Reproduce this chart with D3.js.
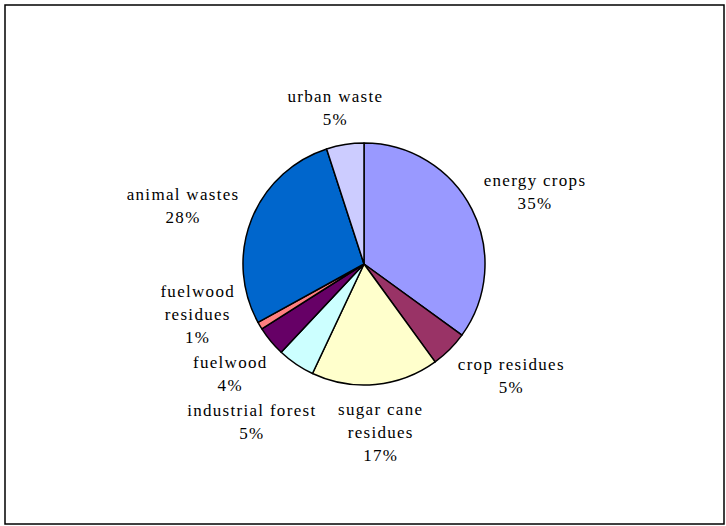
<!DOCTYPE html>
<html>
<head>
<meta charset="utf-8">
<script src="https://cdn.jsdelivr.net/npm/d3@7"></script>
<style>
  body { margin: 0; background: #fff; }
  svg { display: block; }
  .lbl text { font-family: "Liberation Serif", "Times New Roman", serif; font-size: 17px; letter-spacing: 1.3px; fill: #000; }
</style>
</head>
<body>
<script>
// data
const categories = ["energy crops", "crop residues", "sugar cane\nresidues", "industrial forest",
  "fuelwood", "fuelwood\nresidues", "animal wastes", "urban waste"];
const shares = [35, 5, 17, 5, 4, 1, 28, 5];
const sliceColors = ["#9999FF", "#993366", "#FFFFCC", "#CCFFFF", "#660066", "#FF8080", "#0066CC", "#CCCCFF"];
// ----------

const w = 726;
const h = 526;
const cx = 364;
const cy = 264;
const r = 121;
const gap = 14;
const lh = 23;

const svg = d3.select("body").append("svg").attr("width", w).attr("height", h);

// frame
svg.append("rect")
  .attr("x", 5).attr("y", 5)
  .attr("width", 719).attr("height", 519)
  .attr("fill", "#fff")
  .attr("stroke", "#000")
  .attr("stroke-width", 1.5);

const pie = d3.pie().sort(null).value((d) => d.v);
const arcs = pie(shares.map((v, i) => ({ v, i })));
const arcGen = d3.arc().innerRadius(0).outerRadius(r);

const g = svg.append("g").attr("transform", `translate(${cx}, ${cy})`);

g.selectAll("path")
  .data(arcs)
  .enter()
  .append("path")
  .attr("d", arcGen)
  .attr("fill", (d) => sliceColors[d.data.i])
  .attr("stroke", "#000")
  .attr("stroke-width", 1.5)
  .attr("stroke-linejoin", "round");

// labels - placed outward from each slice, Excel style
const lblG = svg.append("g").attr("class", "lbl");
const labels = arcs.map((a) => {
  const lines = categories[a.data.i].split("\n").concat([`${a.data.v}%`]);
  const t = lblG.append("text").attr("text-anchor", "middle");
  lines.forEach((s, k) => t.append("tspan").attr("x", 0).attr("y", k * lh).text(s));
  const bw = t.node().getBBox().width;
  const bh = lines.length * lh;
  const mid = (a.startAngle + a.endAngle) / 2;
  const ux = Math.sin(mid);
  const uy = -Math.cos(mid);
  const px = cx + (r + gap) * ux;
  const py = cy + (r + gap) * uy;
  return { t, bw, bh, ux, x: px + ux * bw / 2, y: py + uy * bh / 2 };
});

// push overlapping labels apart vertically
for (let it = 0; it < 60; it++) {
  for (let i = 0; i < labels.length; i++) {
    for (let j = i + 1; j < labels.length; j++) {
      const a = labels[i], b = labels[j];
      const ox = (a.bw + b.bw) / 2 - Math.abs(a.x - b.x);
      const need = (a.bh + b.bh) / 2 + 2;
      const oy = need - Math.abs(a.y - b.y);
      if (ox > 0 && oy > 0) {
        const s = a.y < b.y ? -1 : 1;
        a.y += s * oy / 2;
        b.y -= s * oy / 2;
      }
    }
  }
}

// keep every label box clear of the pie
const boxDist = (l) => {
  const nx = Math.max(l.x - l.bw / 2, Math.min(cx, l.x + l.bw / 2));
  const ny = Math.max(l.y - l.bh / 2, Math.min(cy, l.y + l.bh / 2));
  return Math.hypot(nx - cx, ny - cy);
};
labels.forEach((l) => {
  const s = l.ux < 0 ? -1 : 1;
  let n = 0;
  while (boxDist(l) < r + 8 && n++ < 200) l.x += s;
});

labels.forEach((l) => {
  l.t.attr("transform", `translate(${l.x}, ${l.y - l.bh / 2 + 17})`);
});
</script>
</body>
</html>
